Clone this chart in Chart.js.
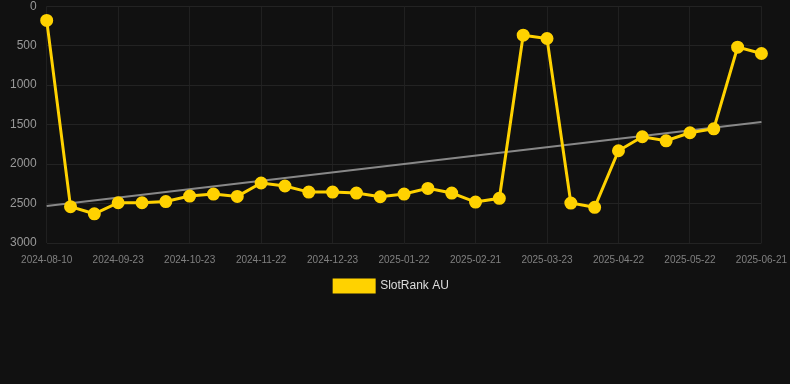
<!DOCTYPE html>
<html>
<head>
<meta charset="utf-8">
<script src="https://cdn.jsdelivr.net/npm/chart.js@4"></script>
<style>
html,body{margin:0;padding:0;background:#111111;overflow:hidden;}
#wrap{position:relative;top:-11px;width:798px;height:313px;}
</style>
</head>
<body>
<div id="wrap"><canvas id="c"></canvas></div>
<script>
const categories = ["2024-08-10","2024-08-24","2024-09-08","2024-09-23","2024-10-03","2024-10-13","2024-10-23","2024-11-02","2024-11-12","2024-11-22","2024-12-02","2024-12-12","2024-12-23","2025-01-02","2025-01-12","2025-01-22","2025-02-01","2025-02-11","2025-02-21","2025-03-03","2025-03-13","2025-03-23","2025-04-02","2025-04-12","2025-04-22","2025-05-02","2025-05-12","2025-05-22","2025-06-01","2025-06-11","2025-06-21"];
const rankValues = [180,2540,2630,2490,2490,2475,2405,2380,2410,2240,2278,2355,2355,2367,2414,2380,2308,2367,2481,2434,367,409,2494,2548,1831,1654,1705,1603,1553,519,599];
const trendEnds = [2532,1468];
const yTicks = [0,500,1000,1500,2000,2500,3000];
const seriesName = "SlotRank AU";

new Chart(document.getElementById('c'), {
  type: 'line',
  data: {
    labels: categories,
    datasets: [
      {
        label: seriesName,
        data: rankValues,
        borderColor: '#FFD200',
        backgroundColor: '#FFD200',
        borderWidth: 3,
        pointRadius: 5,
        pointBackgroundColor: '#FFD200',
        pointBorderColor: '#FFD200',
        tension: 0
      },
      {
        label: 'trend',
        data: [{x: categories[0], y: trendEnds[0]}, {x: categories[categories.length-1], y: trendEnds[1]}],
        borderColor: '#888888',
        borderWidth: 2,
        pointRadius: 0,
        tension: 0
      }
    ]
  },
  options: {
    responsive: true,
    maintainAspectRatio: false,
    animation: false,
    layout: {padding: {left: 0, right: 15, top: 0, bottom: 0}},
    plugins: {
      legend: {
        position: 'bottom',
        labels: {
          color: '#dddddd',
          font: {size: 12},
          boxWidth: 40,
          boxHeight: 12,
          padding: 3,
          filter: (item) => item.text === seriesName
        }
      },
      tooltip: {enabled: false}
    },
    scales: {
      x: {
        offset: false,
        grid: {
          color: (ctx) => (ctx.index % 3 === 0 ? '#202020' : 'rgba(0,0,0,0)'),
          drawTicks: false
        },
        border: {display: false},
        ticks: {
          autoSkip: false,
          maxRotation: 0,
          color: '#808080',
          font: {size: 10},
          padding: 11,
          callback: function(v, i) { return i % 3 === 0 ? categories[i] : ''; }
        }
      },
      y: {
        reverse: true,
        min: 0,
        max: 3000,
        afterBuildTicks: (axis) => { axis.ticks = yTicks.map(v => ({value: v})); },
        grid: {color: '#232323', drawTicks: false},
        border: {display: false},
        ticks: {
          color: '#999999',
          font: {size: 12},
          padding: 10,
          callback: (v) => String(v)
        }
      }
    }
  }
});
</script>
</body>
</html>
